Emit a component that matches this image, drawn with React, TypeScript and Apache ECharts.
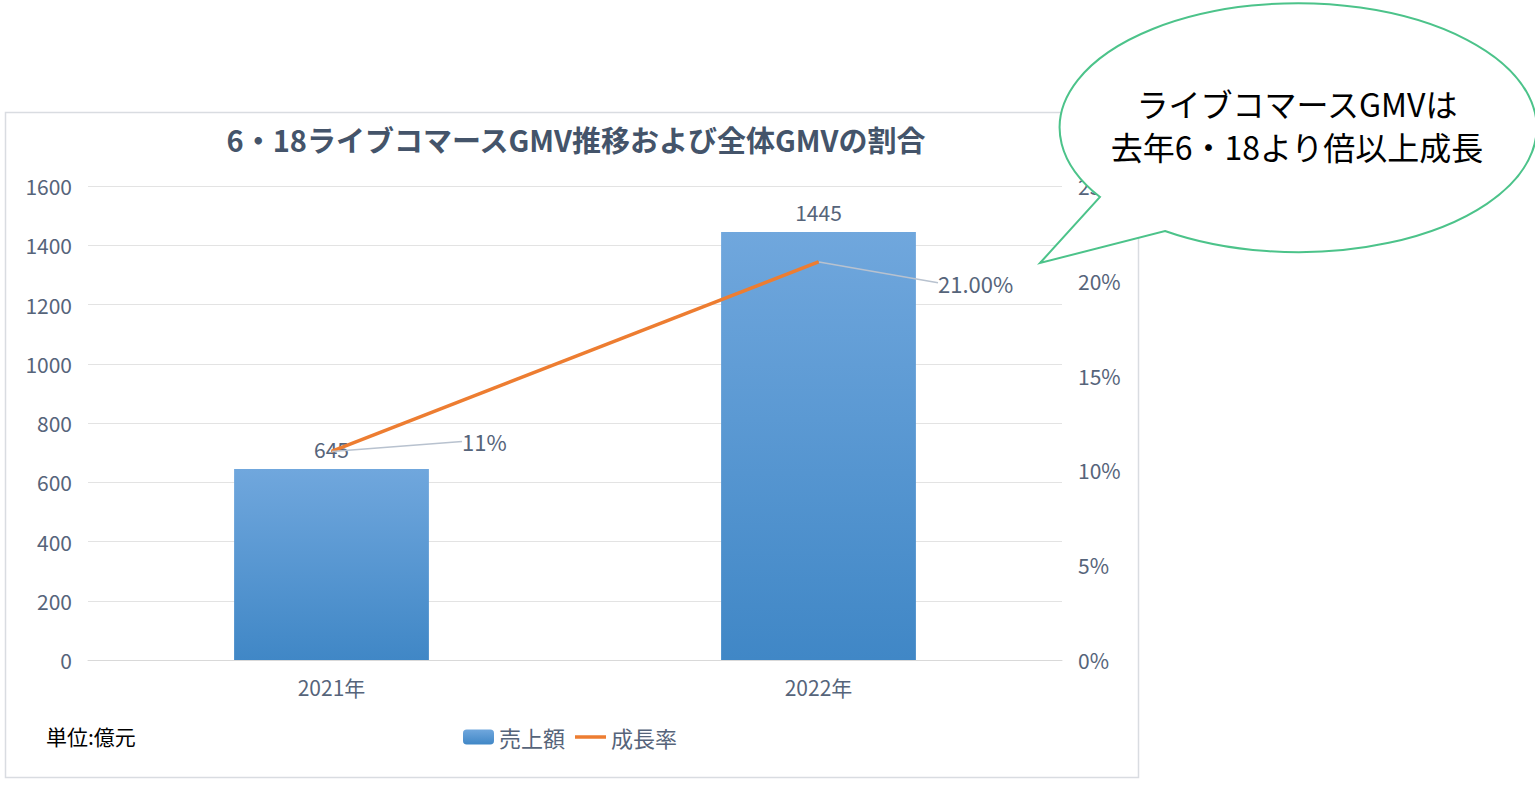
import React, { useEffect, useRef } from "react";
import * as echarts from "echarts";

const categories = ["2021年", "2022年"];
const salesValues = [645, 1445];
const growthValues = [11, 21];
const growthLabels = ["11%", "21.00%"];
const leftTicks = { min: 0, max: 1600, interval: 200 };
const rightTicks = { min: 0, max: 25, interval: 5 };
const bubbleLines = ["ライブコマースGMVは", "去年6・18より倍以上成長"];

const FONT = "'Noto Sans CJK JP', 'Noto Sans', sans-serif";
const AXIS_TEXT = "#56647a";

const bubblePath =
  "M -195.5 71.5 A 238.5 124.5 0 1 1 -130.5 105.5 L -255.5 137.5 Z";

export default function App() {
  const ref = useRef<HTMLDivElement>(null);
  useEffect(() => {
    document.body.style.margin = "0";
    if (!ref.current) return;
    try {
      echarts.graphic.registerShape(
        "speechBubble",
        echarts.graphic.extendPath(bubblePath, {})
      );
    } catch (e) {}
    const chart = echarts.init(ref.current, null, { renderer: "svg" });
    const labelOffsets = [
      { dx: 125, dy: -10 },
      { dx: 114, dy: 21 },
    ];
    chart.setOption({
      animation: false,
      textStyle: { fontFamily: FONT },
      title: {
        text: "6・18ライブコマースGMV推移および全体GMVの割合",
        left: 571,
        top: 119,
        textAlign: "center",
        textStyle: {
          fontFamily: FONT,
          fontSize: 29,
          fontWeight: "bold",
          color: "#44546a",
        },
      },
      grid: { left: 88, right: 473, top: 186, bottom: 125 },
      legend: {
        left: 458,
        top: 721,
        itemWidth: 31,
        itemHeight: 15,
        itemGap: 10,
        textStyle: { fontFamily: FONT, fontSize: 22, color: AXIS_TEXT },
        data: [
          { name: "売上額" },
          { name: "成長率", icon: "path://M0,0 L31,0 L31,3.5 L0,3.5 Z" },
        ],
      },
      xAxis: {
        type: "category",
        data: categories,
        axisLine: { lineStyle: { color: "#d9d9d9" } },
        axisTick: { show: false },
        axisLabel: {
          fontFamily: FONT,
          fontSize: 21,
          color: AXIS_TEXT,
          margin: 16,
        },
      },
      yAxis: [
        {
          type: "value",
          ...leftTicks,
          axisLine: { show: false },
          axisTick: { show: false },
          splitLine: { lineStyle: { color: "#e3e3e3" } },
          axisLabel: {
            fontFamily: FONT,
            fontSize: 21,
            color: AXIS_TEXT,
            margin: 16,
            formatter: (v: number) => String(v),
          },
        },
        {
          type: "value",
          ...rightTicks,
          axisLine: { show: false },
          axisTick: { show: false },
          splitLine: { show: false },
          axisLabel: {
            fontFamily: FONT,
            fontSize: 21,
            color: AXIS_TEXT,
            margin: 16,
            formatter: (v: number) => `${v}%`,
          },
        },
      ],
      series: [
        {
          name: "売上額",
          type: "bar",
          data: salesValues,
          barWidth: "40%",
          itemStyle: {
            color: new echarts.graphic.LinearGradient(0, 0, 0, 1, [
              { offset: 0, color: "#70a7dd" },
              { offset: 1, color: "#4087c6" },
            ]),
          },
          label: {
            show: true,
            position: "top",
            distance: 9,
            fontFamily: FONT,
            fontSize: 21,
            color: AXIS_TEXT,
          },
          z: 2,
        },
        {
          name: "成長率",
          type: "line",
          yAxisIndex: 1,
          data: growthValues,
          symbol: "circle",
          symbolSize: 1,
          showSymbol: true,
          lineStyle: { color: "#ed7d31", width: 3.5 },
          itemStyle: { color: "#ed7d31" },
          label: {
            show: true,
            position: "right",
            distance: 5,
            fontFamily: FONT,
            fontSize: 22,
            color: AXIS_TEXT,
            formatter: (p: any) => growthLabels[p.dataIndex],
          },
          labelLine: {
            show: true,
            lineStyle: { color: "#b8c2cf", width: 1.5 },
          },
          labelLayout: (p: any) => labelOffsets[p.dataIndex],
          z: 3,
        },
      ],
      graphic: [
        {
          type: "rect",
          shape: { x: 5.5, y: 112.5, width: 1133, height: 665 },
          style: { fill: "none", stroke: "#d9dce1", lineWidth: 1.5 },
          silent: true,
          z: 0,
        },
        {
          type: "text",
          left: 46,
          top: 725,
          style: {
            text: "単位:億元",
            font: `21px ${FONT}`,
            fill: "#000",
          },
        },
        {
          type: "speechBubble",
          x: 1295.5,
          y: 125.5,
          style: { fill: "#fff", stroke: "#4cc38a", lineWidth: 2 },
          z: 100,
        },
        {
          type: "text",
          x: 1297,
          y: 103,
          style: {
            text: bubbleLines[0],
            font: `32px ${FONT}`,
            fill: "#000",
            align: "center",
            verticalAlign: "middle",
          },
          z: 101,
        },
        {
          type: "text",
          x: 1297,
          y: 146,
          style: {
            text: bubbleLines[1],
            font: `32px ${FONT}`,
            fill: "#000",
            align: "center",
            verticalAlign: "middle",
          },
          z: 101,
        },
      ],
    });
    return () => chart.dispose();
  }, []);
  return <div ref={ref} style={{ width: 1535, height: 785 }} />;
}
